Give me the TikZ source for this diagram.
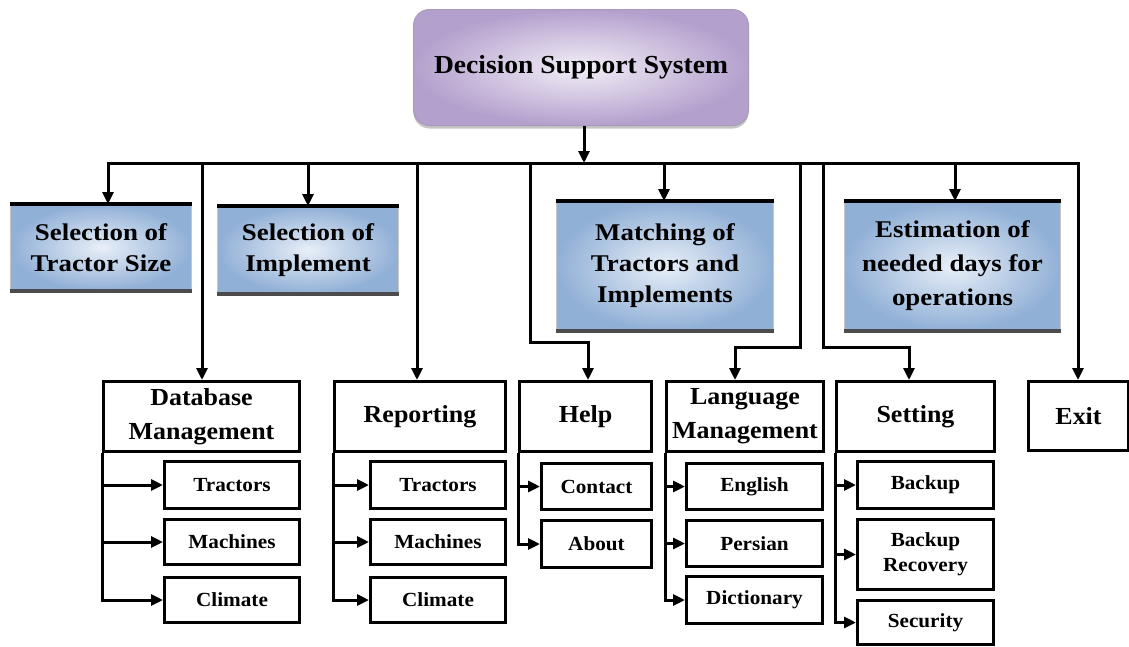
\documentclass[tikz,border=0pt]{standalone}
\usepackage{fontspec}
\setmainfont{Liberation Serif}
\newfontfamily\fa[FakeStretch=1.06]{Liberation Serif}
\newfontfamily\fb[FakeStretch=1.12]{Liberation Serif}
\usetikzlibrary{arrows.meta,shadows,calc}
\definecolor{bluein}{RGB}{232,239,248}
\definecolor{blueout}{RGB}{145,176,214}
\definecolor{purin}{RGB}{242,238,247}
\definecolor{purout}{RGB}{180,160,205}
\begin{document}
\begin{tikzpicture}[x=1pt,y=-1pt,
  conn/.style={line width=3pt, draw=black},
  arr/.style={conn, -{Triangle[length=12pt,width=11pt]}},
  mainbox/.style={draw, line width=3pt, fill=white, anchor=north west, inner sep=0pt, align=center,
     font=\fa\bfseries\fontsize{24.5}{34}\selectfont},
  subbox/.style={mainbox, font=\fa\bfseries\fontsize{20}{25}\selectfont},
  bluebox/.style={anchor=north west, inner sep=0pt, align=center, shading=radial,
     inner color=bluein, outer color=blueout, draw=gray!45, line width=1pt,
     font=\fb\bfseries\fontsize{24}{31}\selectfont},
  dssbox/.style={anchor=north west, inner sep=0pt, align=center, rounded corners=16pt, shading=radial,
     inner color=purin, outer color=purout, draw=purout!80!gray, line width=1pt,
     drop shadow={shadow xshift=0pt, shadow yshift=-3pt, opacity=0.45},
     font=\fa\bfseries\fontsize{26}{31}\selectfont},
]
\useasboundingbox (0,0) rectangle (1129,646);
\fill[white] (0,0) rectangle (1129,646);

% top node
\node[dssbox, minimum width=335pt, minimum height=116pt] (dss) at (413,9) {Decision Support System};

% blue boxes
\node[bluebox, minimum width=181pt, minimum height=86pt] (tsize) at (10,204) {Selection of\\Tractor Size};
\node[bluebox, minimum width=181pt, minimum height=87pt] (impl) at (217,206) {Selection of\\Implement};
\node[bluebox, minimum width=217pt, minimum height=129pt] (match) at (556,201) {Matching of\\Tractors and\\Implements};
\node[bluebox, minimum width=216pt, minimum height=129pt, font=\fb\bfseries\fontsize{24}{34}\selectfont] (est) at (844,201) {Estimation of\\needed days for\\operations};
\foreach \n in {tsize,impl,match,est} {
  \draw[line width=3.5pt, black] (\n.north west) -- (\n.north east);
  \draw[line width=3.5pt, black!70] (\n.south west) -- (\n.south east);
}

% main boxes
\node[mainbox, minimum width=196pt, minimum height=70pt] (db) at (102,380) {Database\\Management};
\node[mainbox, minimum width=171pt, minimum height=70pt] (rep) at (333,380) {Reporting};
\node[mainbox, minimum width=132pt, minimum height=70pt] (help) at (518,380) {Help};
\node[mainbox, minimum width=157pt, minimum height=70pt] (lang) at (665,380) {Language\\Management};
\node[mainbox, minimum width=158pt, minimum height=70pt] (set) at (835,380) {Setting};
\node[mainbox, minimum width=100pt, minimum height=69pt] (exit) at (1027,380) {Exit};

% sub boxes
\node[subbox, minimum width=135pt, minimum height=47pt] (dbt) at (163,460) {Tractors};
\node[subbox, minimum width=135pt, minimum height=45pt] (dbm) at (163,518) {Machines};
\node[subbox, minimum width=135pt, minimum height=45pt] (dbc) at (163,576) {Climate};
\node[subbox, minimum width=135pt, minimum height=47pt] (rt) at (369,460) {Tractors};
\node[subbox, minimum width=135pt, minimum height=45pt] (rm) at (369,518) {Machines};
\node[subbox, minimum width=135pt, minimum height=45pt] (rc) at (369,576) {Climate};
\node[subbox, minimum width=110pt, minimum height=46pt] (hc) at (540,462) {Contact};
\node[subbox, minimum width=110pt, minimum height=47pt] (ha) at (540,519) {About};
\node[subbox, minimum width=136pt, minimum height=46pt] (le) at (685,462) {English};
\node[subbox, minimum width=136pt, minimum height=46pt] (lp) at (685,519) {Persian};
\node[subbox, minimum width=136pt, minimum height=47pt] (ld) at (685,575) {Dictionary};
\node[subbox, minimum width=136pt, minimum height=47pt] (sb) at (856,460) {Backup};
\node[subbox, minimum width=136pt, minimum height=70pt] (sr) at (856,518) {Backup\\Recovery};
\node[subbox, minimum width=136pt, minimum height=44pt] (ss) at (856,599) {Security};

% bus
\coordinate (busL) at (108,163);
\coordinate (busR) at (1078,163);
\coordinate (dm) at (584,163);
\coordinate (d2) at (202,163);
\coordinate (d3) at (308,163);
\coordinate (d4) at (417,163);
\coordinate (d5) at (530,163);
\coordinate (d6) at (664,163);
\coordinate (d7) at (800,163);
\coordinate (d8) at (823,163);
\coordinate (d9) at (955,163);
\coordinate (k5) at (588,342);
\coordinate (k7) at (735,347);
\coordinate (k8) at (909,347);

\draw[arr] (dss.south -| dm) -- (dm);
\draw[conn, line cap=rect] (busL) -- (busR);
\draw[arr] (busL) -- (busL |- tsize.north);
\draw[arr] (d2) -- (d2 |- db.north);
\draw[arr] (d3) -- (d3 |- impl.north);
\draw[arr] (d4) -- (d4 |- rep.north);
\draw[arr] (d5) |- (k5) -- (k5 |- help.north);
\draw[arr] (d6) -- (d6 |- match.north);
\draw[arr] (d7) |- (k7) -- (k7 |- lang.north);
\draw[arr] (d8) |- (k8) -- (k8 |- set.north);
\draw[arr] (d9) -- (d9 |- est.north);
\draw[arr] (busR) -- (busR |- exit.north);

% sub branches
\foreach \p/\s in {db/dbt,db/dbm,db/dbc,rep/rt,rep/rm,rep/rc,help/hc,help/ha,lang/le,lang/lp,lang/ld,set/sb,set/sr,set/ss} {
  \draw[arr] (\p.south west) |- (\s.west);
}
\end{tikzpicture}
\end{document}
